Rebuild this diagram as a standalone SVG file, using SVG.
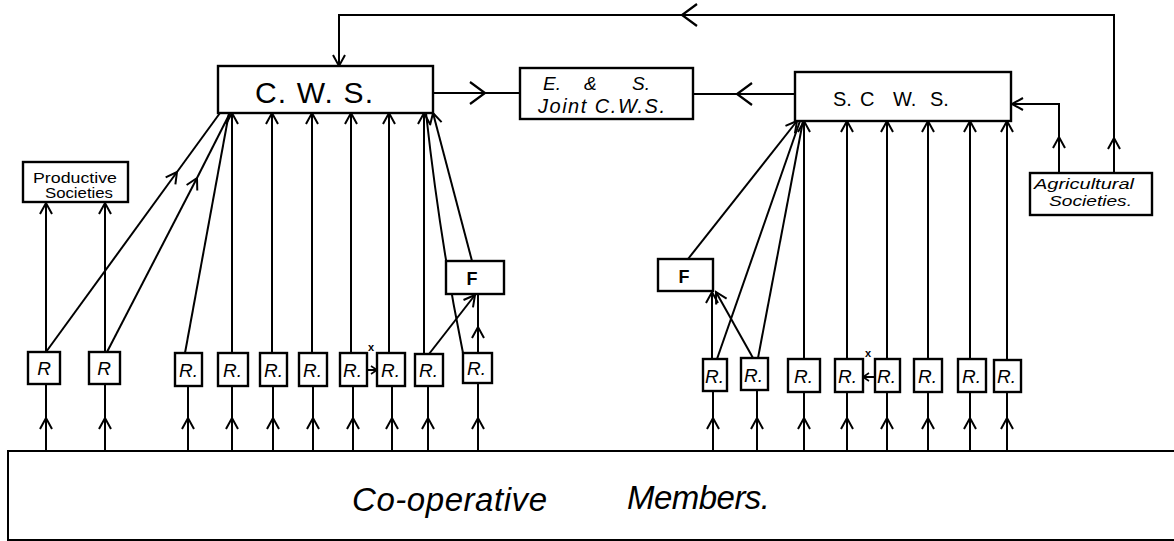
<svg xmlns="http://www.w3.org/2000/svg" xmlns:xlink="http://www.w3.org/1999/xlink" width="1174" height="541" viewBox="0 0 1174 541">
<style>
.box{fill:#fff;stroke:#000;stroke-width:2.4}
.ln{fill:none;stroke:#000;stroke-width:2}
.t{font-family:"Liberation Sans","DejaVu Sans",sans-serif;fill:#000}
.i{font-style:italic}
</style>
<defs>
<marker id="a" markerUnits="userSpaceOnUse" viewBox="-13 -8 15 16" refX="0" refY="0" markerWidth="15" markerHeight="16" orient="auto" overflow="visible">
<path d="M-11,-6 L0,0 L-11,6" fill="none" stroke="#000" stroke-width="2"/>
</marker>
<marker id="b" markerUnits="userSpaceOnUse" viewBox="-17 -13 19 26" refX="0" refY="0" markerWidth="19" markerHeight="26" orient="auto" overflow="visible">
<path d="M-15,-11 L0,0 L-15,11" fill="none" stroke="#000" stroke-width="2.2"/>
</marker>
<marker id="s" markerUnits="userSpaceOnUse" viewBox="-8 -5 10 10" refX="0" refY="0" markerWidth="10" markerHeight="10" orient="auto" overflow="visible">
<path d="M-6,-4 L0,0 L-6,4" fill="none" stroke="#000" stroke-width="1.6"/>
</marker>
</defs>

<g id="connectors">
<path class="ln" d="M1114,173 L1114,138" marker-end="url(#a)"/>
<path class="ln" d="M1114,138 L1114,15 L682,15" marker-end="url(#b)"/>
<path class="ln" d="M682,15 L339,15 L339,66" marker-end="url(#a)"/>
<path class="ln" d="M1059,173 L1059,137" marker-end="url(#a)"/>
<path class="ln" d="M1059,137 L1059,104 L1012,104" marker-end="url(#a)"/>
<path class="ln" d="M433,93 L485,93" marker-end="url(#b)"/>
<path class="ln" d="M485,93 L520,93"/>
<path class="ln" d="M795,94 L737,94" marker-end="url(#b)"/>
<path class="ln" d="M737,94 L693,94"/>

<path class="ln" d="M46,451 L46,418" marker-end="url(#a)"/><path class="ln" d="M46,418 L46,384"/>
<path class="ln" d="M105,451 L105,418" marker-end="url(#a)"/><path class="ln" d="M105,418 L105,384"/>
<path class="ln" d="M188,451 L188,418" marker-end="url(#a)"/><path class="ln" d="M188,418 L188,386"/>
<path class="ln" d="M232,451 L232,418" marker-end="url(#a)"/><path class="ln" d="M232,418 L232,386"/>
<path class="ln" d="M273,451 L273,418" marker-end="url(#a)"/><path class="ln" d="M273,418 L273,386"/>
<path class="ln" d="M313,451 L313,418" marker-end="url(#a)"/><path class="ln" d="M313,418 L313,386"/>
<path class="ln" d="M353,451 L353,418" marker-end="url(#a)"/><path class="ln" d="M353,418 L353,386"/>
<path class="ln" d="M392,451 L392,418" marker-end="url(#a)"/><path class="ln" d="M392,418 L392,386"/>
<path class="ln" d="M428,451 L428,418" marker-end="url(#a)"/><path class="ln" d="M428,418 L428,386"/>
<path class="ln" d="M478,451 L478,418" marker-end="url(#a)"/><path class="ln" d="M478,418 L478,383"/>
<path class="ln" d="M713,451 L713,418" marker-end="url(#a)"/><path class="ln" d="M713,418 L713,391"/>
<path class="ln" d="M757,451 L757,418" marker-end="url(#a)"/><path class="ln" d="M757,418 L757,390"/>
<path class="ln" d="M804,451 L804,418" marker-end="url(#a)"/><path class="ln" d="M804,418 L804,392"/>
<path class="ln" d="M847,451 L847,418" marker-end="url(#a)"/><path class="ln" d="M847,418 L847,392"/>
<path class="ln" d="M887,451 L887,418" marker-end="url(#a)"/><path class="ln" d="M887,418 L887,392"/>
<path class="ln" d="M928,451 L928,418" marker-end="url(#a)"/><path class="ln" d="M928,418 L928,392"/>
<path class="ln" d="M970,451 L970,418" marker-end="url(#a)"/><path class="ln" d="M970,418 L970,392"/>
<path class="ln" d="M1007,451 L1007,418" marker-end="url(#a)"/><path class="ln" d="M1007,418 L1007,392"/>

<path class="ln" d="M46,352 L46,203" marker-end="url(#a)"/>
<path class="ln" d="M105,352 L105,203" marker-end="url(#a)"/>
<path class="ln" d="M46,352 L177,172" marker-end="url(#a)"/><path class="ln" d="M177,172 L220,113"/>
<path class="ln" d="M107,352 L197,178" marker-end="url(#a)"/><path class="ln" d="M197,178 L230,113"/>
<path class="ln" d="M185,353 L229,113"/>
<path class="ln" d="M232,353 L232,113" marker-end="url(#a)"/>
<path class="ln" d="M272,353 L272,113" marker-end="url(#a)"/>
<path class="ln" d="M312,353 L312,113" marker-end="url(#a)"/>
<path class="ln" d="M351,353 L351,113" marker-end="url(#a)"/>
<path class="ln" d="M389,353 L389,113" marker-end="url(#a)"/>
<path class="ln" d="M424,354 L424,113" marker-end="url(#a)"/>
<path class="ln" d="M463,353 Q440,240 426,113"/>
<path class="ln" d="M472,261 L433,113" marker-end="url(#a)"/>
<path class="ln" d="M429,354 L475,295" marker-end="url(#a)"/>
<path class="ln" d="M478,353 L478,327" marker-end="url(#a)"/><path class="ln" d="M478,327 L478,294"/>
<path class="ln" d="M367,370 L377,370" stroke-width="1.6" marker-end="url(#s)"/>

<path class="ln" d="M688,259 L797,121" marker-end="url(#a)"/>
<path class="ln" d="M712,359 L712,292" marker-end="url(#a)"/>
<path class="ln" d="M753,358 L716,292" marker-end="url(#a)"/>
<path class="ln" d="M717,359 L800,121"/>
<path class="ln" d="M758,358 L803,121"/>
<path class="ln" d="M804,359 L804,121" marker-end="url(#a)"/>
<path class="ln" d="M847,359 L847,121" marker-end="url(#a)"/>
<path class="ln" d="M887,359 L887,121" marker-end="url(#a)"/>
<path class="ln" d="M928,359 L928,121" marker-end="url(#a)"/>
<path class="ln" d="M970,359 L970,121" marker-end="url(#a)"/>
<path class="ln" d="M1007,359 L1007,121" marker-end="url(#a)"/>
<path class="ln" d="M875,377 L863,377" stroke-width="1.6" marker-end="url(#s)"/>
</g>

<g id="cws"><rect class="box" x="218" y="66" width="215" height="47"/>
<text class="t" x="314" y="103" font-size="30" text-anchor="middle" textLength="118" lengthAdjust="spacing">C. W. S.</text></g>

<g id="es"><rect class="box" x="520" y="68" width="173" height="51"/>
<text class="t i" y="90" font-size="19"><tspan x="543">E.</tspan><tspan x="584">&amp;</tspan><tspan x="632">S.</tspan></text>
<text class="t i" x="538" y="113" font-size="20" textLength="127" lengthAdjust="spacing">Joint C.W.S.</text></g>

<g id="scws"><rect class="box" x="795" y="72" width="216" height="49"/>
<text class="t" y="106" font-size="20"><tspan x="833">S.</tspan><tspan x="860">C</tspan><tspan x="893">W.</tspan><tspan x="930">S.</tspan></text></g>

<g id="productive"><rect class="box" x="23" y="162" width="105" height="40"/>
<text class="t" x="33" y="183" font-size="14" textLength="84" lengthAdjust="spacingAndGlyphs">Productive</text>
<text class="t" x="45" y="198" font-size="14" textLength="68" lengthAdjust="spacingAndGlyphs">Societies</text></g>

<g id="agricultural"><rect class="box" x="1030" y="173" width="122" height="42"/>
<text class="t i" x="1034" y="189" font-size="14" textLength="100" lengthAdjust="spacingAndGlyphs">Agricultural</text>
<text class="t i" x="1049" y="206" font-size="14" textLength="83" lengthAdjust="spacingAndGlyphs">Societies.</text></g>

<g id="f-left"><rect class="box" x="446" y="261" width="58" height="33"/>
<text class="t" x="472" y="285" font-size="18" font-weight="bold" text-anchor="middle">F</text></g>
<g id="f-right"><rect class="box" x="658" y="259" width="55" height="32"/>
<text class="t" x="684" y="283" font-size="18" font-weight="bold" text-anchor="middle">F</text></g>

<g id="r-left" class="t" font-size="19">
<g id="rl1"><rect class="box" x="28" y="352" width="32" height="32"/><text x="44" y="375" text-anchor="middle" class="i">R</text></g>
<g id="rl2"><rect class="box" x="89" y="352" width="31" height="32"/><text x="104" y="375" text-anchor="middle" class="i">R</text></g>
<g id="rl3"><rect class="box" x="175" y="353" width="27" height="33"/><text x="179" y="377" class="i">R.</text></g>
<g id="rl4"><rect class="box" x="218" y="353" width="30" height="33"/><text x="223" y="377" class="i">R.</text></g>
<g id="rl5"><rect class="box" x="260" y="353" width="27" height="33"/><text x="264" y="377" class="i">R.</text></g>
<g id="rl6"><rect class="box" x="299" y="353" width="28" height="33"/><text x="303" y="377" class="i">R.</text></g>
<g id="rl7"><rect class="box" x="340" y="353" width="27" height="33"/><text x="343" y="377" class="i">R.</text></g>
<g id="rl8"><rect class="box" x="377" y="353" width="28" height="33"/><text x="381" y="377" class="i">R.</text></g>
<g id="rl9"><rect class="box" x="415" y="354" width="28" height="32"/><text x="419" y="377" class="i">R.</text></g>
<g id="rl10"><rect class="box" x="463" y="353" width="29" height="30"/><text x="467" y="375" class="i">R.</text></g>
<text x="368" y="351" font-size="11" font-weight="bold">x</text>
</g>

<g id="r-right" class="t" font-size="19">
<g id="rr1"><rect class="box" x="703" y="359" width="24" height="32"/><text x="705" y="383" class="i">R.</text></g>
<g id="rr2"><rect class="box" x="741" y="358" width="27" height="32"/><text x="744" y="382" class="i">R.</text></g>
<g id="rr3"><rect class="box" x="788" y="359" width="32" height="33"/><text x="794" y="383" class="i">R.</text></g>
<g id="rr4"><rect class="box" x="835" y="359" width="28" height="33"/><text x="838" y="383" class="i">R.</text></g>
<g id="rr5"><rect class="box" x="875" y="359" width="25" height="33"/><text x="877" y="383" class="i">R.</text></g>
<g id="rr6"><rect class="box" x="914" y="359" width="28" height="33"/><text x="918" y="383" class="i">R.</text></g>
<g id="rr7"><rect class="box" x="958" y="359" width="28" height="33"/><text x="962" y="383" class="i">R.</text></g>
<g id="rr8"><rect class="box" x="994" y="360" width="27" height="32"/><text x="997" y="383" class="i">R.</text></g>
<text x="865" y="357" font-size="11" font-weight="bold">x</text>
</g>

<g id="members">
<path class="ln" d="M1174,451 L8,451 L8,540 L1174,540" stroke-width="2.4"/>
<text class="t i" x="352" y="511" font-size="33" textLength="195" lengthAdjust="spacing">Co-operative</text>
<text class="t i" x="627" y="509" font-size="33" textLength="143" lengthAdjust="spacing">Members.</text>
</g>
</svg>
